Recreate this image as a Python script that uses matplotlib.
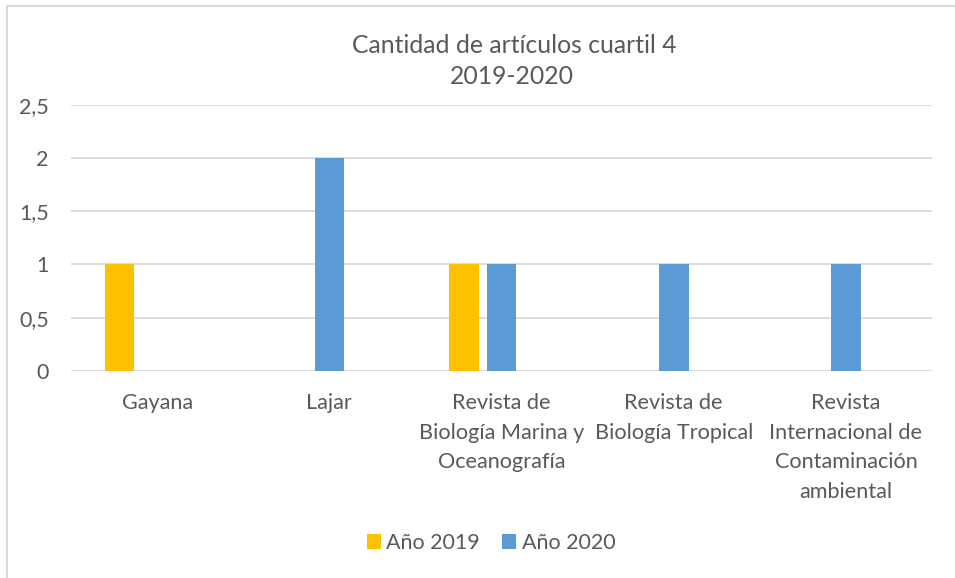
import matplotlib
matplotlib.use("Agg")
import matplotlib.pyplot as plt
from matplotlib.lines import Line2D
from matplotlib.patches import Patch
import numpy as np

categories = ["Gayana", "Lajar", "Revista de\nBiología Marina y\nOceanografía",
              "Revista de\nBiología Tropical",
              "Revista\nInternacional de\nContaminación\nambiental"]
values_2019 = [1, 0, 1, 0, 0]
values_2020 = [0, 2, 1, 1, 1]
series_names = ["Año 2019", "Año 2020"]
y_ticks = [0, 0.5, 1, 1.5, 2, 2.5]
y_tick_labels = ["0", "0,5", "1", "1,5", "2", "2,5"]
title_lines = ["Cantidad de artículos cuartil 4", "2019-2020"]

plt.rcParams['font.family'] = ['Lato', 'DejaVu Sans']
txt = '#595959'
c2019 = '#FFC000'
c2020 = '#5B9BD5'

W, H = 955, 578
fig = plt.figure(figsize=(W/100, H/100), dpi=100)
ax = fig.add_axes([71/W, 1-371/H, (932-71)/W, (371-104.7)/H])

x = np.arange(len(categories))
bw = 29.6/172.2
step = 37.8/172.2
for i in range(len(categories)):
    if values_2019[i]:
        ax.bar(x[i]-step, values_2019[i], width=bw, color=c2019)
    if values_2020[i]:
        ax.bar(x[i], values_2020[i], width=bw, color=c2020)

ax.set_xlim(-0.5, len(categories)-0.5)
ax.set_ylim(0, 2.5)
ax.set_yticks(y_ticks)
ax.set_yticklabels(y_tick_labels)
ax.set_xticks(x)
ax.set_xticklabels(categories, linespacing=1.6)
ax.yaxis.grid(True, color='#D9D9D9', linewidth=1.3)
ax.set_axisbelow(True)
for s in ax.spines.values():
    s.set_visible(False)
ax.tick_params(axis='both', length=0, colors=txt)
ax.tick_params(axis='y', pad=16, labelsize=15.5)
ax.tick_params(axis='x', pad=16, labelsize=15.6)
for lab in ax.get_xticklabels():
    lab.set_verticalalignment('top')

fig.text(514/W, 1-53/H, title_lines[0], ha='center', va='baseline',
         fontsize=17.8, color=txt)
fig.text(512/W, 1-84/H, title_lines[1], ha='center', va='baseline',
         fontsize=17.8, color=txt)

handles = [Patch(facecolor=c2019), Patch(facecolor=c2020)]
leg = fig.legend(handles, series_names, loc='center', bbox_to_anchor=(491/W, 1-543/H),
                 ncol=2, frameon=False, fontsize=15.5, handlelength=0.65, handleheight=0.65,
                 handletextpad=0.25, columnspacing=1.05, labelcolor=txt)

# chart border (top and left visible)
fig.add_artist(Line2D([7/W, 1], [1-5.5/H, 1-5.5/H], color='#D9D9D9', lw=1.5, transform=fig.transFigure))
fig.add_artist(Line2D([7/W, 7/W], [0, 1-5.5/H], color='#D9D9D9', lw=1.5, transform=fig.transFigure))

fig.savefig("out.png", dpi=100)
